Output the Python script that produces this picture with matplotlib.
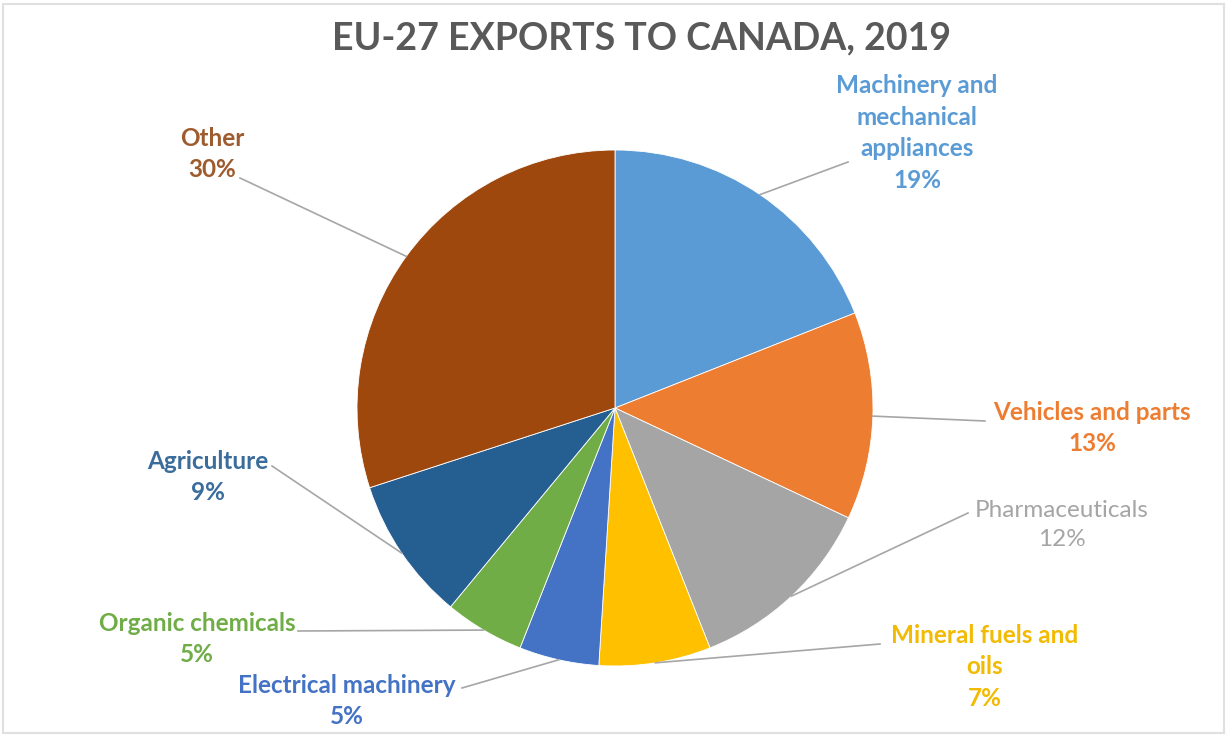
import matplotlib.pyplot as plt
import matplotlib.patches as mpatches
import numpy as np

W, H = 1231, 736
categories = ['Machinery and\nmechanical\nappliances', 'Vehicles and parts', 'Pharmaceuticals',
              'Mineral fuels and\noils', 'Electrical machinery', 'Organic chemicals',
              'Agriculture', 'Other']
shares = [19, 13, 12, 7, 5, 5, 9, 30]
colors = ['#5B9BD5', '#ED7D31', '#A5A5A5', '#FFC000', '#4472C4', '#70AD47', '#255E91', '#9E480E']
label_colors = ['#5B9BD5', '#ED7D31', '#A5A5A5', '#F2BA00', '#4472C4', '#70AD47', '#3A6D9C', '#9E5B2E']

# layout (pixels): pie centre / radius, label centres, leader line ends
cx, cy, R = 615, 408, 258
label_pos = [(917, 133), (1092, 428), (1062, 525), (985, 667),
             (347, 701), (197, 639), (208, 477), (212, 154)]
line_end = [(848, 162), (985, 421), (968, 513), (880, 644),
            (462, 688), (298, 631), (272, 466), (240, 178)]

plt.rcParams['font.family'] = ['Lato', 'DejaVu Sans']

fig = plt.figure(figsize=(W / 100, H / 100), dpi=100)
ax = fig.add_axes([0, 0, 1, 1])

def px(x, y):
    return (x - cx) / R, (cy - y) / R

wedges, _ = ax.pie(shares, colors=colors, startangle=90, counterclock=False, radius=1,
                   wedgeprops=dict(edgecolor='white', linewidth=0.6))
ax.set_xlim(-cx / R, (W - cx) / R)
ax.set_ylim((cy - H) / R, cy / R)
ax.set_aspect('auto')
ax.axis('off')

for i, w in enumerate(wedges):
    mid = np.deg2rad((w.theta1 + w.theta2) / 2)
    x0, y0 = np.cos(mid), np.sin(mid)
    ex, ey = px(*line_end[i])
    ax.plot([x0, ex], [y0, ey], color='#A6A6A6', lw=1.2, zorder=1)
    lx, ly = px(*label_pos[i])
    weight = 'normal' if categories[i] == 'Pharmaceuticals' else 'bold'
    ax.text(lx, ly, f'{categories[i]}\n{shares[i]}%', ha='center', va='center',
            color=label_colors[i], fontsize=17.5, fontweight=weight, linespacing=1.45)

tx, ty = px(642, 38)
ax.text(tx, ty, 'EU-27 EXPORTS TO CANADA, 2019', ha='center', va='center',
        color='#595959', fontsize=27, fontweight='bold')

fig.patches.append(mpatches.Rectangle((3 / W, 3 / H), 1 - 10 / W, 1 - 7 / H, transform=fig.transFigure,
                                      fill=False, edgecolor='#E0E0E0', lw=1.5))

fig.savefig('out.png', dpi=100)
